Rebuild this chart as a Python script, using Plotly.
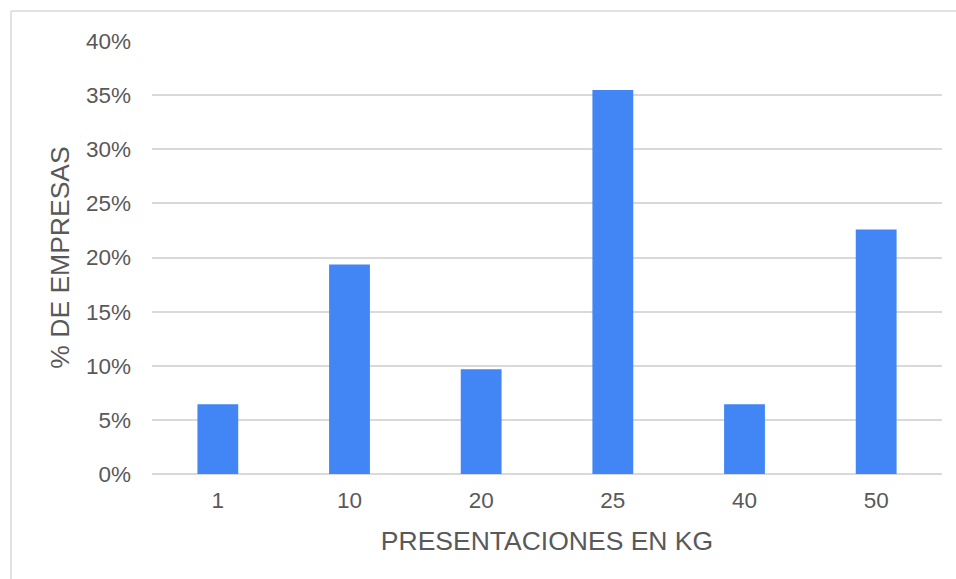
import plotly.graph_objects as go

# Package sizes (kg) and share of companies offering each
presentaciones = ["1", "10", "20", "25", "40", "50"]
empresas = [2, 6, 3, 11, 2, 7]
total_empresas = 31
porcentaje = [n / total_empresas for n in empresas]

W, H = 956, 579
ML, MR, MT, MB = 152, 14, 41, 105
pw, ph = W - ML - MR, H - MT - MB

fig = go.Figure(
    go.Bar(
        x=presentaciones,
        y=porcentaje,
        marker=dict(color="#4285F4", line=dict(width=0)),
        width=0.31,
        hoverinfo="x+y",
    )
)

grid = "#d9d9d9"
text_color = "#595959"
font = "Liberation Sans, Arial, sans-serif"

# Outer light frame (left and top edges visible)
bx0 = (11 - ML) / pw
by1 = (H - 11 - MB) / ph
fig.add_shape(type="line", xref="paper", yref="paper",
              x0=bx0, x1=(W - ML + 5) / pw, y0=by1, y1=by1,
              line=dict(color=grid, width=1.5))
fig.add_shape(type="line", xref="paper", yref="paper",
              x0=bx0, x1=bx0, y0=by1, y1=-(MB + 5) / ph,
              line=dict(color=grid, width=1.5))

fig.update_layout(
    width=W, height=H,
    margin=dict(l=ML, r=MR, t=MT, b=MB),
    plot_bgcolor="white", paper_bgcolor="white",
    showlegend=False,
    font=dict(family=font, color=text_color, size=22),
    xaxis=dict(
        type="category",
        showgrid=False, showline=False, ticks="",
        ticklabelstandoff=10,
        tickfont=dict(size=22.5, color=text_color),
        title=dict(text="PRESENTACIONES EN KG", font=dict(size=26.5, color=text_color), standoff=19),
    ),
    yaxis=dict(
        range=[0, 0.4], dtick=0.05, tickformat=".0%",
        showgrid=True, gridcolor=grid, gridwidth=1.5,
        zeroline=True, zerolinecolor=grid, zerolinewidth=1.5,
        showline=False, ticks="",
        ticklabelstandoff=20,
        tickfont=dict(size=22.5, color=text_color),
        title=dict(text="% DE EMPRESAS", font=dict(size=26.5, color=text_color), standoff=8),
    ),
)

fig.write_html("out.html")
